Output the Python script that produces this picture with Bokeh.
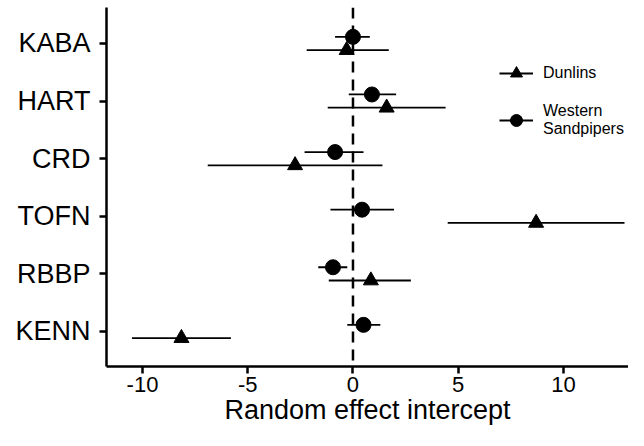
from bokeh.plotting import figure
from bokeh.models import ColumnDataSource, FixedTicker, Span, Legend, LegendItem
from bokeh.embed import file_html
from bokeh.resources import INLINE

sites = ["KABA", "HART", "CRD", "TOFN", "RBBP", "KENN"]
dun_est = [-0.3, 1.6, -2.75, 8.7, 0.85, -8.15]
dun_lo = [-2.2, -1.2, -6.9, 4.5, -1.15, -10.5]
dun_hi = [1.7, 4.4, 1.4, 12.9, 2.75, -5.8]
ws_est = [0.0, 0.9, -0.85, 0.43, -0.95, 0.5]
ws_lo = [-0.85, -0.2, -2.3, -1.07, -1.65, -0.27]
ws_hi = [0.8, 2.05, 0.5, 1.95, -0.27, 1.3]
x_ticks = [-10, -5, 0, 5, 10]
x_tick_labels = ["-10", "-5", "0", "5", "10"]

n = len(sites)
ypos = [n - i for i in range(n)]
off = 0.115
dun_y = [y - off for y in ypos]
ws_y = [y + off for y in ypos]

dun = ColumnDataSource(dict(y=dun_y, est=dun_est, lo=dun_lo, hi=dun_hi))
ws = ColumnDataSource(dict(y=ws_y, est=ws_est, lo=ws_lo, hi=ws_hi))

p = figure(width=628, height=430, output_backend="svg", toolbar_location=None,
           x_range=(-11.71, 13.09), y_range=(0.392, 6.625))
p.min_border_left = 106
p.min_border_bottom = 64
p.min_border_top = 7
p.min_border_right = 0
p.outline_line_color = None
p.xgrid.visible = False
p.ygrid.visible = False
p.background_fill_color = "white"
p.border_fill_color = "white"

zero = Span(location=0, dimension="height", line_color="black", line_width=2.5, line_dash="11 7")
p.add_layout(zero)

FONT = "Liberation Sans"

d_seg = p.segment(x0="lo", x1="hi", y0="y", y1="y", source=dun, line_color="black", line_width=1.8)
d_pt = p.scatter(x="est", y="y", source=dun, marker="triangle", size=15, fill_color="black", line_color="black")
w_seg = p.segment(x0="lo", x1="hi", y0="y", y1="y", source=ws, line_color="black", line_width=1.8)
w_pt = p.scatter(x="est", y="y", source=ws, marker="circle", size=15, fill_color="black", line_color="black")

for ax in (p.xaxis[0], p.yaxis[0]):
    ax.axis_line_width = 2.5
    ax.axis_line_color = "black"
    ax.major_tick_line_width = 2.5
    ax.major_tick_line_color = "black"
    ax.major_tick_in = 0
    ax.major_tick_out = 7
    ax.minor_tick_line_color = None
    ax.major_label_text_font = FONT
    ax.major_label_text_color = "black"

p.xaxis.ticker = FixedTicker(ticks=x_ticks)
p.xaxis.major_label_overrides = {t: s for t, s in zip(x_ticks, x_tick_labels)}
p.xaxis.major_label_text_font_size = "22px"
p.xaxis.major_label_standoff = 3
p.xaxis.axis_label = "Random effect intercept"
p.xaxis.axis_label_text_font = FONT
p.xaxis.axis_label_text_font_size = "27px"
p.xaxis.axis_label_text_font_style = "normal"
p.xaxis.axis_label_text_color = "black"
p.xaxis.axis_label_standoff = 0

p.yaxis.ticker = FixedTicker(ticks=ypos)
p.yaxis.major_label_overrides = {y: s for y, s in zip(ypos, sites)}
p.yaxis.major_label_text_font_size = "27px"
p.yaxis.major_label_standoff = 9

legend = Legend(items=[
    LegendItem(label="Dunlins", renderers=[d_seg, d_pt]),
    LegendItem(label="Western\nSandpipers", renderers=[w_seg, w_pt]),
], location=(393, 228))
legend.label_text_font = FONT
legend.label_text_font_size = "16px"
legend.label_text_color = "black"
legend.label_text_line_height = 1.2
legend.glyph_width = 34
legend.glyph_height = 30
legend.label_standoff = 10
legend.spacing = 14
legend.padding = 0
legend.margin = 0
legend.border_line_color = None
legend.background_fill_alpha = 0
p.add_layout(legend)

open("out.html", "w").write(file_html(p, INLINE))
